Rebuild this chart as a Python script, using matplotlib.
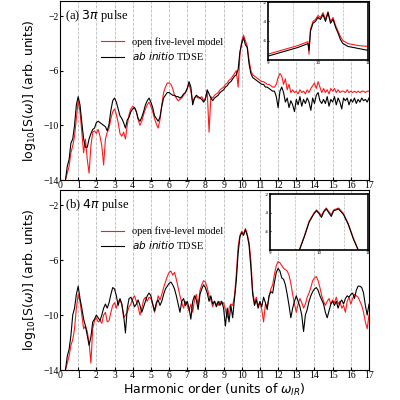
import numpy as np
import matplotlib
matplotlib.use("Agg")
import matplotlib.pyplot as plt

# harmonic order grid (0.3 .. 17.0 step 0.1)
H = np.round(np.arange(0.3, 17.05, 0.1), 1)

top_tdse = [-14, -13, -12.5, -11.3, -11, -10, -8.5, -7.9, -8.5, -9.8, -11, -11.6, -11.6, -11, -10.6, -10.3, -10.2,
            -9.8, -9.7, -9.8, -9.9, -10, -10.1, -10.4, -9.9, -8.9, -8.2, -8.0, -8.3, -8.8, -9.3, -9.5, -9.8, -10.2,
            -9.6, -9.4, -9.0, -8.8, -8.7, -9.0, -9.5, -9.7, -9.4, -9.0, -8.5, -8.2, -8.0, -8.3, -8.7, -9.3, -9.5,
            -9.7, -9.4, -8.6, -8.0, -7.8, -7.6, -7.6, -7.7, -7.8, -7.8, -7.9, -7.9, -8.0, -7.9, -7.7, -7.6, -7.3,
            -6.8, -7.2, -8.5, -8.0, -7.8, -7.9, -8.0, -8.1, -8.3, -8.1, -7.4, -7.7, -8.0, -8.2, -8.0, -7.9, -7.8,
            -7.6, -7.5, -7.4, -7.2, -7.1, -6.9, -6.8, -6.6, -6.4, -6.3, -5.9, -4.6, -4.0, -3.6, -4.1, -4.3, -5.5,
            -6.2, -6.5, -6.6, -6.7, -6.8, -6.9, -7.0, -7.0, -7.2, -7.2, -7.3, -7.4, -7.5, -7.5, -7.9, -8.7, -7.5,
            -7.2, -7.6, -8.3, -8.0, -8.7, -8.2, -8.5, -9.0, -8.1, -8.5, -7.9, -8.6, -8.1, -8.4, -8.0, -8.3, -8.9,
            -8.0, -8.4, -7.8, -7.6, -8.2, -8.4, -8.1, -8.4, -7.9, -8.6, -8.1, -8.3, -7.9, -8.5, -8.0, -8.3, -8.8,
            -8.0, -8.2, -8.0, -8.5, -8.1, -8.3, -8.0, -8.4, -8.1, -8.3, -8.0, -8.2, -8.1, -8.3, -8.0]
top_model = [-14, -13.5, -13, -12, -11.5, -10.8, -9.5, -8.2, -9.0, -10.5, -12.0, -11.0, -12.5, -13.5, -11.5, -10.5,
             -10.4, -10.6, -10.3, -10.8, -11.5, -12.9, -11.0, -10.5, -10.2, -9.5, -9.0, -8.8, -9.2, -9.8, -10.6,
             -10.8, -10.5, -11.0, -10.0, -9.2, -8.8, -8.6, -8.7, -9.0, -9.6, -10.0, -9.7, -9.2, -8.8, -8.5, -8.3,
             -8.6, -9.0, -9.5, -9.9, -10.2, -9.6, -8.5, -7.6, -7.2, -6.9, -6.9, -7.0, -7.3, -7.8, -8.0, -8.2, -8.1,
             -8.0, -7.8, -7.6, -7.3, -7.0, -7.5, -8.3, -8.0, -7.9, -8.0, -8.0, -7.9, -8.2, -8.0, -7.5, -10.5, -7.9,
             -8.0, -7.8, -7.7, -7.6, -7.4, -7.3, -7.2, -7.0, -6.9, -6.7, -6.6, -6.4, -6.2, -6.0, -7.2, -4.8, -3.8,
             -3.4, -3.8, -4.2, -5.2, -6.0, -6.3, -6.4, -6.5, -6.6, -6.7, -6.8, -6.8, -6.9, -7.0, -7.0, -7.1, -7.2,
             -7.2, -7.0, -6.5, -6.2, -6.4, -7.0, -6.6, -7.4, -7.0, -7.6, -7.4, -7.6, -7.5, -7.7, -7.4, -7.6, -7.5,
             -7.7, -7.4, -7.6, -7.3, -7.1, -6.9, -7.3, -6.8, -7.2, -7.6, -7.3, -7.6, -7.4, -7.7, -7.3, -7.5, -7.3,
             -7.6, -7.4, -7.6, -7.5, -7.5, -7.6, -7.4, -7.6, -7.5, -7.6, -7.5, -7.6, -7.5, -7.6, -7.5, -7.5, -7.6,
             -7.5, -7.5]
bot_tdse = [-14, -13, -12.5, -11.5, -10, -9.5, -8.5, -7.9, -8.8, -9.5, -10.3, -10.8, -11.5, -12.2, -11.6, -10.5,
            -10.3, -10.0, -10.2, -10.4, -10.0, -9.5, -9.2, -9.5, -9.1, -8.5, -8.0, -8.1, -8.6, -9.3, -8.8, -9.2,
            -10.0, -11.3, -9.5, -8.8, -8.7, -9.0, -9.4, -9.2, -8.9, -9.3, -9.8, -9.4, -9.0, -8.6, -8.4, -8.6, -9.2,
            -9.7, -9.1, -8.9, -9.3, -9.0, -8.5, -8.1, -7.9, -7.7, -7.6, -7.8, -8.1, -8.6, -9.2, -9.8, -9.0, -8.8,
            -9.3, -9.0, -9.5, -10.3, -9.0, -8.6, -8.9, -9.6, -8.5, -8.1, -7.8, -8.0, -8.4, -9.0, -8.6, -9.2, -9.0,
            -9.4, -9.0, -9.3, -9.0, -9.5, -10.8, -9.5, -10.5, -9.3, -10.2, -8.8, -7.5, -5.5, -4.3, -4.0, -4.2, -3.8,
            -4.2, -4.9, -6.5, -8.5, -9.3, -8.9, -9.5, -9.0, -9.4, -8.7, -9.1, -9.6, -8.6, -8.3, -8.4, -7.6, -6.9,
            -6.6, -6.8, -7.3, -7.4, -7.8, -8.5, -9.3, -10.2, -9.5, -9.0, -8.6, -9.0, -9.4, -10.0, -11.2, -10.0, -9.6,
            -9.0, -8.6, -8.3, -8.1, -8.0, -8.2, -8.6, -8.9, -9.2, -9.8, -10.2, -9.7, -9.2, -9.0, -9.3, -9.0, -9.5,
            -9.1, -8.9, -9.2, -8.8, -8.6, -8.7, -8.5, -8.4, -8.8, -8.2, -7.9, -7.9, -8.0, -8.4, -9.3, -10.0, -9.2]
bot_model = [-14, -13.5, -13, -12.2, -11.8, -11, -9.5, -8.5, -9.0, -10.0, -11.0, -10.8, -11.2, -12.0, -13.5, -11.0,
             -10.4, -10.2, -10.5, -10.4, -10.6, -10.0, -9.8, -10.5, -10.4, -9.8, -9.3, -9.1, -9.5, -9.0, -8.9, -9.2,
             -10.2, -10.0, -9.8, -9.4, -9.2, -8.8, -8.6, -9.0, -9.4, -10.0, -9.5, -8.9, -8.7, -9.0, -8.7, -8.8,
             -9.2, -9.8, -9.3, -8.6, -8.9, -8.5, -8.0, -7.6, -7.2, -6.9, -6.8, -7.1, -6.9, -7.4, -8.0, -8.6, -9.1,
             -9.5, -9.0, -9.3, -9.7, -9.2, -9.8, -8.9, -8.5, -9.3, -8.2, -7.8, -7.5, -7.6, -8.0, -8.6, -8.9, -9.4,
             -9.0, -9.2, -9.3, -9.0, -9.2, -9.1, -9.6, -10.2, -9.5, -9.2, -9.3, -8.6, -7.0, -5.0, -4.2, -3.9, -4.1,
             -3.7, -4.1, -4.7, -6.0, -8.2, -9.1, -8.7, -9.3, -9.1, -9.6, -10.5, -9.2, -9.4, -8.7, -8.1, -7.8, -7.0,
             -6.4, -6.1, -6.2, -6.4, -6.6, -6.7, -6.8, -7.1, -7.7, -8.5, -9.2, -9.8, -9.2, -8.8, -9.1, -9.5, -9.2,
             -8.7, -8.4, -8.0, -7.5, -7.3, -7.2, -7.5, -8.0, -8.6, -9.0, -9.3, -9.0, -8.8, -9.2, -8.9, -9.1, -8.7,
             -9.2, -9.0, -9.5, -9.3, -9.8, -9.0, -8.7, -9.2, -8.8, -8.5, -8.6, -8.7, -9.0, -9.3, -9.8, -10.5, -11.0,
             -10.0]

# insets: zoom on the 10th harmonic
ins_top_x = [9.0, 9.2, 9.4, 9.6, 9.7, 9.8, 9.82, 9.85, 9.9, 9.95, 10.0, 10.05, 10.1, 10.15, 10.2, 10.25, 10.3,
             10.35, 10.4, 10.45, 10.5, 10.6, 10.8, 11.0]
ins_top_tdse = [-7.6, -7.3, -7.0, -6.7, -6.5, -6.3, -7.0, -5.0, -4.2, -4.0, -3.6, -3.8, -3.3, -4.0, -3.1, -4.2,
                -3.8, -4.6, -5.2, -5.9, -6.3, -6.6, -6.8, -7.0]
ins_top_model = [-7.4, -7.1, -6.8, -6.5, -6.3, -6.1, -7.4, -4.8, -4.0, -3.8, -3.4, -3.6, -3.1, -3.8, -3.0, -4.0,
                 -3.6, -4.4, -5.0, -5.6, -6.0, -6.3, -6.5, -6.6]
ins_bot_x = [9.6, 9.7, 9.8, 9.9, 9.95, 10.0, 10.05, 10.1, 10.15, 10.2, 10.25, 10.3, 10.4, 10.5, 10.6, 10.7, 10.8]
ins_bot_tdse = [-8.0, -6.6, -5.0, -4.1, -3.8, -4.1, -4.5, -3.9, -3.6, -4.0, -4.4, -3.8, -3.6, -4.2, -5.3, -6.8, -8.0]
ins_bot_model = [-8.0, -6.5, -4.9, -4.0, -3.7, -4.0, -4.3, -3.8, -3.5, -3.9, -4.2, -3.7, -3.5, -4.1, -5.2, -6.7, -8.0]

SERIF = "Liberation Serif"
RED = "#ff1a1a"

fig = plt.figure(figsize=(4, 4), dpi=100)
panels = [
    (fig.add_axes([0.15, 0.55, 0.7725, 0.4475]), top_model, top_tdse, r"(a) $3\pi$ pulse",
     [0.67, 0.85, 0.25, 0.145], ins_top_x, ins_top_model, ins_top_tdse),
    (fig.add_axes([0.15, 0.075, 0.7725, 0.45]), bot_model, bot_tdse, r"(b) $4\pi$ pulse",
     [0.675, 0.375, 0.245, 0.14], ins_bot_x, ins_bot_model, ins_bot_tdse),
]
for ax, model, tdse, tag, ibox, ix, imod, itd in panels:
    for k in range(1, 17):
        ax.axvline(k, color="#bbbbbb", ls="--", lw=0.6, zorder=0)
    ax.plot(H, model, color=RED, lw=0.8, label="open five-level model")
    ax.plot(H, tdse, color="black", lw=0.8, label="ab initio TDSE")
    ax.set_xlim(0, 17); ax.set_ylim(-14, -0.9)
    ax.set_xticks(range(18)); ax.set_yticks([-2, -6, -10, -14])
    ax.tick_params(labelsize=7, length=2, direction="in", pad=1)
    for t in ax.get_xticklabels() + ax.get_yticklabels():
        t.set_family(SERIF)
    ax.set_ylabel(r"log$_{10}$[S($\omega$)] (arb. units)", fontsize=9)
    ax.text(0.3, -2.0, tag, family=SERIF, fontsize=9, va="center")
    leg = ax.legend(loc="upper left", bbox_to_anchor=(0.12, 0.82), frameon=False, fontsize=7.5,
                    handlelength=2.2, borderaxespad=0, labelspacing=0.3)
    leg.get_texts()[0].set_family(SERIF)
    leg.get_texts()[1].set_text(r"$\it{ab\ initio}$ TDSE")
    leg.get_texts()[1].set_family(SERIF)

    ia = fig.add_axes(ibox)
    for k in (9.5, 10, 10.5):
        ia.axvline(k, color="#bbbbbb", ls="--", lw=0.5)
    ia.plot(ix, imod, color=RED, lw=0.8)
    ia.plot(ix, itd, color="black", lw=0.8)
    ia.set_xlim(9, 11); ia.set_ylim(-8, -2)
    ia.set_xticks([9, 10, 11]); ia.set_yticks([-2, -4, -6, -8])
    ia.set_yticklabels(["-2", "-4", "-6", ""])
    ia.tick_params(labelsize=3, length=1, direction="in", pad=1)
    for s in ia.spines.values():
        s.set_linewidth(1.2)

panels[1][0].set_xlabel(r"Harmonic order (units of $\omega_{IR}$)", fontsize=9, labelpad=1)
fig.savefig("out.png", dpi=100)
